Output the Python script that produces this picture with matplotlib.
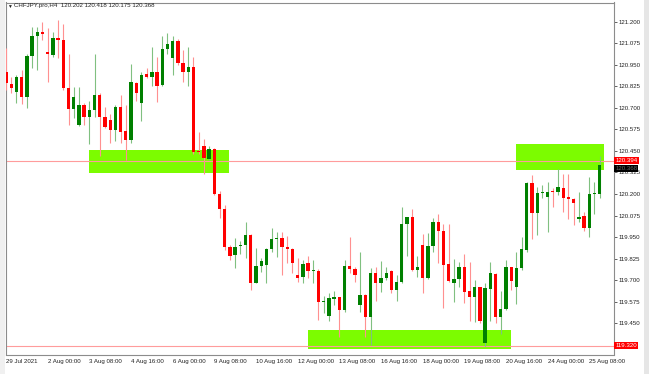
import matplotlib
matplotlib.use("Agg")
import matplotlib.pyplot as plt
from matplotlib.patches import Rectangle
import matplotlib.transforms as mtransforms

plt.rcParams['font.family'] = ['Liberation Sans', 'DejaVu Sans']

# H4 candles, CHFJPY.pro (29 Jul 16:00 .. 25 Aug 16:00)
opens = [120.910, 120.839, 120.790, 120.879, 120.763, 121.003, 121.115, 121.138, 121.024, 121.009,
         121.105, 121.094, 120.817, 120.695, 120.601, 120.717, 120.647, 120.686, 120.773, 120.645,
         120.632, 120.570, 120.703, 120.564, 120.514, 120.842, 120.726, 120.895, 120.881, 120.910,
         120.833, 121.040, 120.991, 121.088, 120.958, 120.910, 120.935, 120.452, 120.479, 120.405,
         120.463, 120.198, 120.115, 119.892, 119.848, 119.896, 119.906, 119.960, 119.686, 119.782,
         119.786, 119.879, 119.937, 119.945, 119.894, 119.881, 119.728, 119.716, 119.798, 119.755,
         119.755, 119.573, 119.492, 119.593, 119.600, 119.525, 119.782, 119.763, 119.556, 119.614,
         119.486, 119.740, 119.682, 119.711, 119.755, 119.643, 119.691, 120.024, 120.065, 119.759,
         119.904, 119.711, 119.900, 120.036, 119.985, 119.792, 119.686, 119.707, 119.778, 119.635,
         119.604, 119.658, 119.337, 119.649, 119.736, 119.486, 119.531, 119.778, 119.662, 119.773,
         119.875, 120.262, 120.092, 120.208, 120.181, 120.218, 120.214, 120.235, 120.181, 120.169,
         120.053, 120.072, 120.005, 120.198, 120.202]
highs = [121.045, 120.881, 120.891, 120.920, 121.011, 121.171, 121.171, 121.196, 121.162, 121.142,
         121.210, 121.185, 121.011, 120.823, 120.823, 120.726, 120.740, 121.011, 120.784, 120.707,
         120.662, 120.717, 120.775, 120.717, 120.953, 120.852, 120.906, 120.933, 121.055, 120.997,
         121.119, 121.133, 121.119, 121.100, 121.036, 121.055, 120.997, 120.562, 120.519, 120.481,
         120.469, 120.218, 120.136, 119.904, 119.947, 119.929, 120.040, 119.966, 119.889, 119.831,
         119.889, 120.005, 119.978, 119.978, 119.958, 119.885, 119.831, 119.817, 119.842, 119.817,
         119.765, 119.608, 119.627, 119.637, 119.604, 119.817, 119.952, 119.775, 119.865, 119.618,
         119.773, 119.775, 119.813, 119.775, 119.759, 119.730, 120.127, 120.069, 120.113, 119.842,
         119.968, 119.972, 120.059, 120.082, 120.024, 120.024, 119.823, 119.804, 119.852, 119.807,
         119.701, 119.662, 119.682, 119.807, 119.740, 119.637, 119.817, 119.778, 119.862, 119.952,
         120.268, 120.310, 120.239, 120.252, 120.268, 120.233, 120.345, 120.316, 120.314, 120.179,
         120.210, 120.094, 120.301, 120.268, 120.418]
lows = [120.804, 120.784, 120.726, 120.721, 120.701, 120.929, 120.920, 121.094, 120.852, 120.997,
        120.991, 120.804, 120.601, 120.643, 120.597, 120.601, 120.488, 120.649, 120.423, 120.581,
        120.494, 120.508, 120.494, 120.397, 120.494, 120.740, 120.624, 120.875, 120.829, 120.732,
        120.829, 121.011, 120.891, 120.949, 120.852, 120.829, 120.430, 120.430, 120.314, 120.397,
        120.194, 120.059, 119.875, 119.817, 119.769, 119.850, 119.831, 119.643, 119.682, 119.749,
        119.682, 119.862, 119.836, 119.730, 119.798, 119.740, 119.687, 119.682, 119.711, 119.682,
        119.469, 119.511, 119.463, 119.556, 119.372, 119.513, 119.740, 119.687, 119.517, 119.372,
        119.324, 119.579, 119.633, 119.701, 119.624, 119.581, 119.682, 119.840, 119.753, 119.716,
        119.624, 119.705, 119.865, 119.802, 119.540, 119.687, 119.575, 119.662, 119.569, 119.463,
        119.459, 119.449, 119.318, 119.463, 119.449, 119.386, 119.527, 119.643, 119.560, 119.759,
        119.862, 119.939, 119.962, 120.175, 119.981, 120.127, 120.194, 120.098, 120.055, 120.020,
        120.036, 119.987, 119.952, 120.082, 120.175]
closes = [120.842, 120.817, 120.879, 120.761, 121.003, 121.117, 121.138, 121.131, 121.011, 121.107,
          121.094, 120.817, 120.695, 120.761, 120.719, 120.649, 120.686, 120.773, 120.645, 120.591,
          120.570, 120.703, 120.562, 120.514, 120.848, 120.784, 120.891, 120.881, 120.910, 120.829,
          121.040, 121.073, 121.088, 120.962, 120.906, 120.935, 120.446, 120.446, 120.407, 120.463,
          120.198, 120.115, 119.892, 119.842, 119.892, 119.906, 119.960, 119.686, 119.782, 119.811,
          119.879, 119.937, 119.945, 119.894, 119.881, 119.802, 119.715, 119.794, 119.755, 119.757,
          119.575, 119.581, 119.595, 119.600, 119.525, 119.782, 119.765, 119.730, 119.614, 119.486,
          119.743, 119.682, 119.711, 119.743, 119.641, 119.691, 120.024, 120.065, 119.759, 119.775,
          119.711, 119.900, 120.036, 119.985, 119.788, 119.697, 119.705, 119.778, 119.633, 119.604,
          119.658, 119.463, 119.653, 119.740, 119.488, 119.533, 119.778, 119.697, 119.773, 119.879,
          120.262, 120.092, 120.208, 120.212, 120.214, 120.212, 120.239, 120.179, 120.169, 120.146,
          120.069, 120.005, 120.198, 120.204, 120.368]

date_labels = ['29 Jul 2021', '2 Aug 00:00', '3 Aug 08:00', '4 Aug 16:00', '6 Aug 00:00',
               '9 Aug 08:00', '10 Aug 16:00', '12 Aug 00:00', '13 Aug 08:00', '16 Aug 16:00',
               '18 Aug 00:00', '19 Aug 08:00', '20 Aug 16:00', '24 Aug 00:00', '25 Aug 08:00']
label_step = 8  # bars between date labels

price_ticks = [121.200, 121.075, 120.950, 120.825, 120.700, 120.575, 120.450, 120.325,
               120.200, 120.075, 119.950, 119.825, 119.700, 119.575, 119.450, 119.325]

# supply / demand zones: (first bar, last bar, low, high)
zones = [(16, 43, 120.324, 120.455),
         (58, 97, 119.300, 119.411),
         (98, 115, 120.341, 120.490)]
hlines = [120.394, 119.320]
last_close = closes[-1]

fig = plt.figure(figsize=(6.49, 3.74), dpi=100)
fig.patches.append(Rectangle((0, 0), 5 / 649, 1, transform=fig.transFigure,
                             fc='#f0f0f0', ec='none', zorder=0))
fig.patches.append(Rectangle((644 / 649, 0), 5 / 649, 1, transform=fig.transFigure,
                             fc='#e6e6e6', ec='none', zorder=0))

ax = fig.add_axes([5.5 / 649, 1 - 354.5 / 374, 608 / 649, 352 / 374])
ax.set_xlim(-0.1, 116.65)
ax.set_ylim(119.2685, 121.311)

for x0, x1, lo, hi in zones:
    ax.add_patch(Rectangle((x0 - 0.1, lo), x1 - x0, hi - lo, fc='#7cfc00', ec='none', zorder=1))

for y in hlines:
    ax.axhline(y, color='#ff9c9c', lw=0.8, zorder=2)

idx = list(range(len(opens)))
up = [c >= o for o, c in zip(opens, closes)]
body_col = ['#008000' if u else '#ff0000' for u in up]
wick_col = ['#80c080' if u else '#ff9090' for u in up]
ax.vlines(idx, lows, highs, colors=wick_col, lw=0.8, zorder=3)
heights = [max(abs(c - o), 0.004) for o, c in zip(opens, closes)]
bottoms = [min(o, c) for o, c in zip(opens, closes)]
ax.bar(idx, heights, bottom=bottoms, width=0.64, color=body_col, lw=0, zorder=4)

# the lowest tick label sits under the red 119.320 price tag, so leave it blank
ax.yaxis.tick_right()
ax.set_yticks(price_ticks)
ax.set_yticklabels([f'{p:.3f}' if p > min(hlines) + 0.02 else '' for p in price_ticks])
ax.set_xticks(range(0, len(opens), label_step))
ax.set_xticklabels(date_labels)
for lab in ax.get_xticklabels():
    lab.set_horizontalalignment('left')
ax.tick_params(axis='both', labelsize=4.4, colors='#222222', length=2, width=0.5, pad=1.5)
ax.tick_params(axis='x', length=0, pad=3)
for s in ax.spines.values():
    s.set_color('#8c8c8c')
    s.set_linewidth(0.8)

trans = mtransforms.blended_transform_factory(ax.transAxes, ax.transData)
ax.text(1.003, last_close - 0.02, f'{last_close:.3f}', transform=trans, fontsize=4.4,
        color='#666666', ha='left', va='center', zorder=5,
        bbox=dict(boxstyle='square,pad=0.15', fc='black', ec='none'))
for y in hlines:
    ax.text(1.003, y, f'{y:.3f}', transform=trans, fontsize=4.4, color='white',
            ha='left', va='center', zorder=6,
            bbox=dict(boxstyle='square,pad=0.2', fc='#ff0000', ec='none'))

header = 'CHFJPY.pro,H4  {:.3f} {:.3f} {:.3f} {:.3f}'.format(opens[-1], highs[-1], lows[-1], closes[-1])
fig.text(7 / 649, 1 - 6 / 374, '\u25bc', fontsize=3.5, color='#222222', va='center', ha='left')
fig.text(14.5 / 649, 1 - 6 / 374, header, fontsize=4.4, color='#222222', va='center', ha='left')

fig.savefig('out.png', dpi=100)
